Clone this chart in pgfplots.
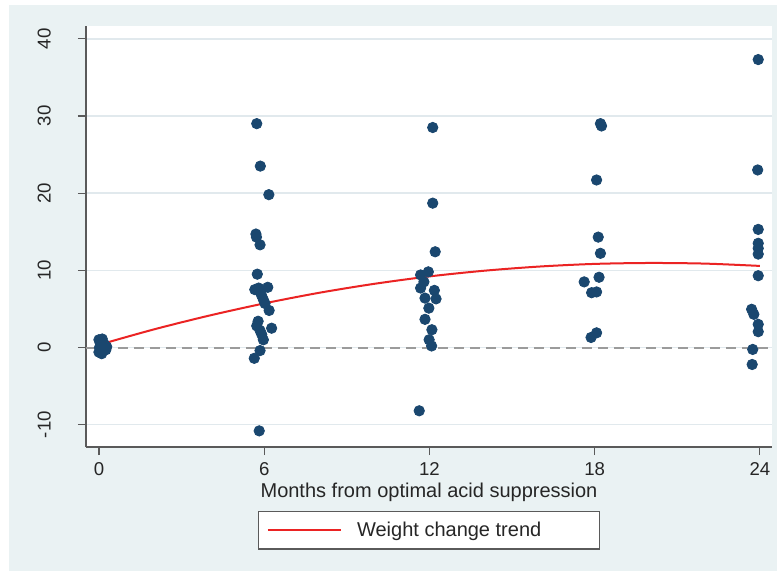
\documentclass[border=0pt]{standalone}
\usepackage{pgfplots}
\pgfplotsset{compat=1.18}
\usepackage{fontspec}
\setmainfont{Liberation Sans}
\definecolor{bgblue}{RGB}{234,242,243}
\definecolor{gridc}{RGB}{225,233,237}
\definecolor{navy}{RGB}{26,71,111}
\definecolor{trendred}{RGB}{235,35,35}
\definecolor{axc}{RGB}{90,90,90}
\definecolor{zeroc}{RGB}{155,155,155}
\begin{document}
\begin{tikzpicture}
\useasboundingbox (-43pt,-63.5pt) rectangle (345.5pt,223.5pt);
\fill[bgblue] (-38.5pt,-62pt) rectangle (345.5pt,221pt);
\begin{axis}[
  at={(0pt,0pt)}, anchor=south west,
  scale only axis, width=343pt, height=210.5pt,
  xmin=-0.47, xmax=24.44, ymin=-12.89, ymax=41.65,
  axis background/.style={fill=white},
  axis x line*=bottom, axis y line*=left,
  axis line style={axc, line width=0.6pt, -},
  xtick={0,6,12,18,24}, ytick={-10,0,10,20,30,40},
  tick align=outside, major tick length=4pt,
  tick style={axc, line width=0.6pt},
  ymajorgrids, grid style={gridc, line width=0.8pt},
  /pgf/number format/assume math mode=true,
  ticklabel style={font=\fontsize{9.3}{10}\selectfont, text=black!85},
  yticklabel style={rotate=90, anchor=south},
  yticklabel shift=10pt,
  xlabel={Months from optimal acid suppression},
  xlabel style={font=\fontsize{10}{12}\selectfont, text=black!85, at={(axis description cs:0.5,0)}, anchor=north, yshift=-14.7pt},
  legend style={at={(axis description cs:0.5,0)}, anchor=north, yshift=-32pt,
    draw=axc, fill=white, line width=0.6pt, font=\fontsize{10}{12}\selectfont,
    text=black!85, inner xsep=4pt, inner ysep=3pt},
  legend cell align=left,
  legend image code/.code={\draw[#1, line width=1pt] (0pt,0pt) -- (36.6pt,0pt); \path (42.1pt,0pt);},
]
\addplot[zeroc, line width=1pt, dash pattern=on 5pt off 3pt, forget plot]
  coordinates {(-0.47,0) (24.44,0)};
\addplot[trendred, line width=1pt, smooth, mark=none] coordinates {
 (0,0.35) (2,2.35) (4,4.13) (6,5.71) (8,7.09) (10,8.25) (12,9.21)
 (14,9.95) (16,10.49) (18,10.83) (20,10.95) (22,10.87) (24,10.57)};
\addlegendentry{\makebox[115pt][l]{Weight change trend}}
\addplot[only marks, mark=*, mark size=2.6pt, navy, mark options={fill=navy, draw=navy}, forget plot]
 table[row sep=\\] {
 x y \\
 0.00 1.0 \\ 0.12 1.1 \\ 0.05 0.6 \\ 0.20 0.4 \\ 0.28 0.1 \\ 0.02 0.0 \\
 0.15 -0.2 \\ 0.00 -0.6 \\ 0.10 -0.8 \\ 0.25 -0.3 \\ 0.08 0.3 \\
 5.73 29.0 \\ 5.86 23.5 \\ 6.17 19.8 \\ 5.70 14.7 \\ 5.72 14.3 \\ 5.85 13.3 \\
 5.75 9.5 \\ 5.66 7.5 \\ 5.80 7.7 \\ 6.13 7.8 \\ 5.90 6.8 \\ 5.97 6.2 \\
 6.03 5.7 \\ 6.18 4.8 \\ 5.78 3.4 \\ 5.73 2.8 \\ 6.27 2.5 \\ 5.85 2.2 \\
 5.91 1.7 \\ 5.97 1.0 \\ 5.85 -0.4 \\ 5.64 -1.4 \\ 5.82 -10.8 \\
 12.12 28.5 \\ 12.12 18.7 \\ 12.21 12.4 \\ 11.96 9.8 \\ 11.68 9.4 \\ 11.80 8.5 \\
 11.68 7.7 \\ 12.18 7.4 \\ 11.84 6.4 \\ 12.24 6.3 \\ 11.98 5.1 \\ 11.84 3.65 \\
 12.09 2.3 \\ 11.99 1.0 \\ 12.08 0.2 \\ 11.63 -8.2 \\
 18.21 29.0 \\ 18.25 28.7 \\ 18.07 21.7 \\ 18.13 14.3 \\ 18.21 12.2 \\
 18.16 9.1 \\ 17.62 8.5 \\ 17.89 7.1 \\ 18.07 7.2 \\ 18.07 1.9 \\ 17.87 1.3 \\
 23.94 37.3 \\ 23.92 23.0 \\ 23.94 15.3 \\ 23.94 13.5 \\ 23.94 12.85 \\
 23.94 12.1 \\ 23.94 9.3 \\ 23.70 4.95 \\ 23.78 4.3 \\ 23.94 3.0 \\
 23.94 2.05 \\ 23.74 -0.25 \\ 23.72 -2.2 \\
 };
\end{axis}
\end{tikzpicture}
\end{document}
